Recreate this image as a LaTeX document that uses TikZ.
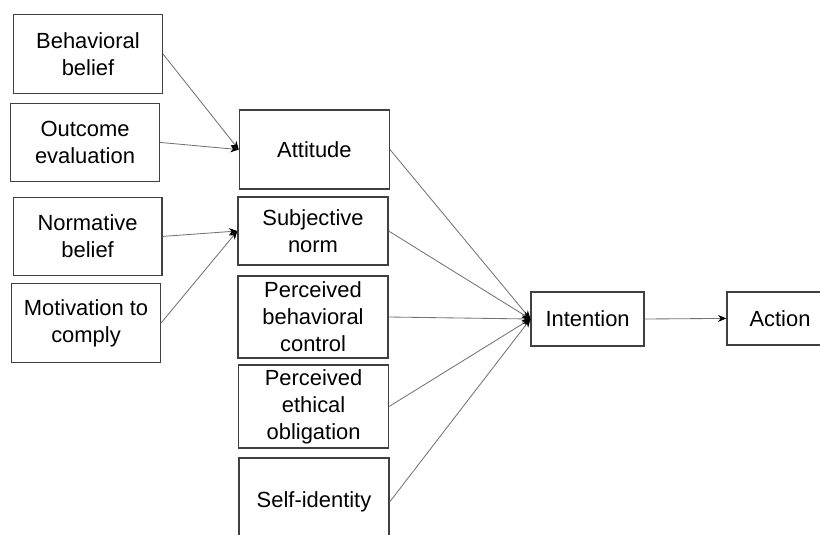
\documentclass[tikz,border=0pt]{standalone}
\usepackage{fontspec}
\setmainfont{Liberation Sans}
\usepackage{tikz}
\usetikzlibrary{arrows.meta}

\begin{document}
\begin{tikzpicture}[
    box/.style={shape=rectangle, draw=black!75, line width=0.9pt, align=center,
        inner sep=0pt, font=\fontsize{15.6}{19.2}\selectfont},
    lbox/.style={box, minimum width=3.72cm, minimum height=1.96cm},
    mbox/.style={box, minimum width=3.75cm},
    link/.style={draw=black!55, line width=0.6pt, -{Stealth[length=6pt,width=5pt,black]}}
]
    \path[use as bounding box] (0,0) rectangle (20.5,13.35);
    \clip (0,0) rectangle (20.5,13.35);

    \node[lbox] (BB) at (2.2,12.0) {Behavioral\\belief};
    \node[lbox] (OE) at (2.125,9.79) {Outcome\\evaluation};
    \node[lbox] (NB) at (2.19,7.44) {Normative\\belief};
    \node[lbox] (MC) at (2.15,5.275) {Motivation to\\comply};

    \node[mbox, minimum height=1.975cm] (AT) at (7.86,9.61) {Attitude};
    \node[mbox, minimum height=1.7cm] (SN) at (7.825,7.575) {Subjective\\norm};
    \node[mbox, minimum height=2.05cm] (PBC) at (7.825,5.425) {Perceived\\behavioral\\control};
    \node[mbox, minimum height=2.075cm] (PEO) at (7.84,3.19) {Perceived\\ethical\\obligation};
    \node[mbox, minimum height=2.2cm] (SI) at (7.85,0.8) {Self-identity};

    \node[box, minimum width=2.825cm, minimum height=1.35cm] (IN) at (14.69,5.375) {Intention};
    \node[box, minimum width=2.65cm, minimum height=1.325cm] (AC) at (19.5,5.39) {Action};

    % beliefs to attitude and norm
    \path (BB.east) edge[link] (AT.west);
    \path (OE.east) edge[link] (AT.west);
    \path (NB.east) edge[link] (SN.west);
    \path (MC.east) edge[link] (SN.west);

    % everything to intention
    \path (AT.east) edge[link] (IN.west);
    \path (SN.east) edge[link] (IN.west);
    \path (PBC.east) edge[link] (IN.west);
    \path (PEO.east) edge[link] (IN.west);
    \path (SI.east) edge[link] (IN.west);

    \path (IN.east) edge[link] (AC.west);
\end{tikzpicture}
\end{document}
